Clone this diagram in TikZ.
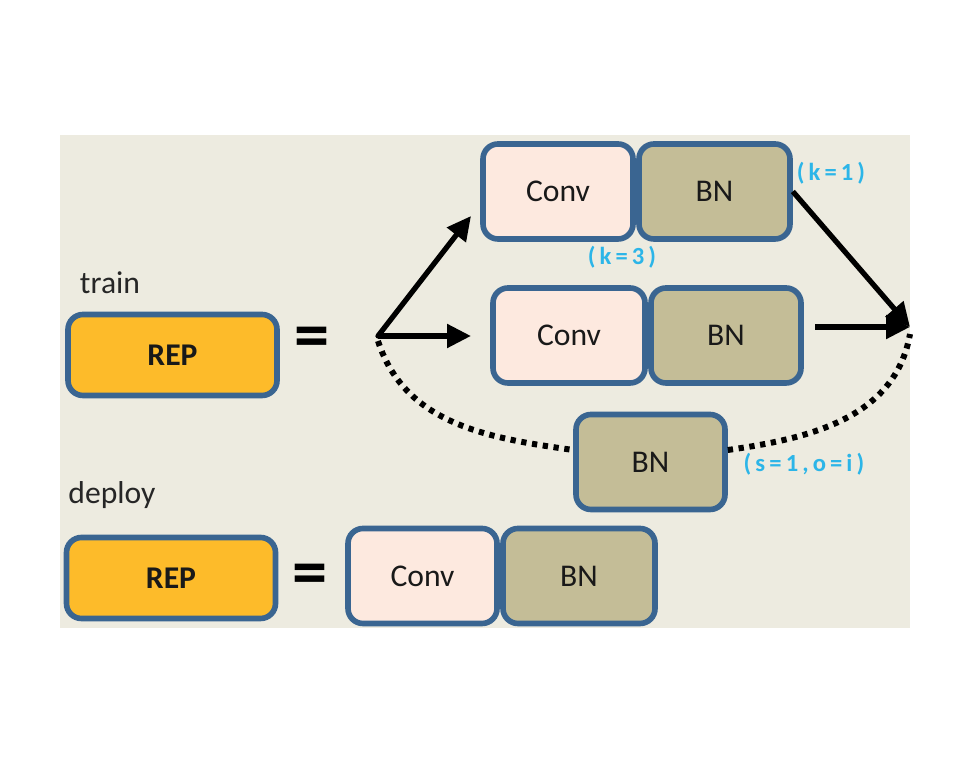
\documentclass[tikz,border=0pt]{standalone}
\usepackage{fontspec}
\setmainfont{Carlito}
\usetikzlibrary{arrows.meta}

\definecolor{panel}{HTML}{EDEBE0}
\definecolor{edge}{HTML}{3A6591}
\definecolor{convfill}{HTML}{FDE9DF}
\definecolor{bnfill}{HTML}{C4BD97}
\definecolor{repfill}{HTML}{FDBB2A}
\definecolor{note}{HTML}{2CB5E8}

\tikzset{
	blk/.style={shape=rectangle, rounded corners=0.3cm, draw=edge, line width=3.2pt,
		minimum height=1.9cm, font=\fontsize{18}{20}\selectfont, text=black!90},
	conv/.style={blk, fill=convfill},
	bn/.style={blk, fill=bnfill},
	rep/.style={blk, fill=repfill, minimum width=4.18cm, minimum height=1.62cm,
		font=\fontsize{18}{20}\selectfont\bfseries},
	lbl/.style={font=\fontsize{18}{20}\selectfont, text=black!85},
	kval/.style={font=\fontsize{14}{16}\selectfont\bfseries, text=note},
	eq/.style={font=\fontsize{40}{40}\selectfont\bfseries},
	arr/.style={line width=3pt, -{Triangle[length=0.48cm,width=0.46cm]}},
	dots/.style={line width=3.4pt, dash pattern=on 3pt off 3.2pt}
}

\begin{document}
\begin{tikzpicture}
	\useasboundingbox (0,0) rectangle (19.42,15.18);
	\fill[panel] (1.2,2.62) rectangle (18.2,12.48);

	\node[lbl] (train) at (2.20, 9.52) {train};
	\node[lbl] (deploy) at (2.24, 5.28) {deploy};

	\node[rep] (rep1) at (3.45, 8.08) {REP};
	\node[rep] (rep2) at (3.42, 3.62) {REP};

	\node[eq] (eq1) at (6.24, 8.32) {=};
	\node[eq] (eq2) at (6.20, 3.58) {=};

	\node[conv, minimum width=3.0cm]  (conv1) at (11.16, 11.35) {Conv};
	\node[bn, minimum width=3.02cm]   (bn1)   at (14.29, 11.35) {BN};
	\node[conv, minimum width=3.04cm] (conv2) at (11.38, 8.47)  {Conv};
	\node[bn, minimum width=3.0cm]    (bn2)   at (14.52, 8.47)  {BN};
	\node[bn, minimum width=2.98cm]   (bn3)   at (13.01, 5.94)  {BN};
	\node[conv, minimum width=2.98cm] (conv4) at (8.45, 3.66)   {Conv};
	\node[bn, minimum width=3.04cm]   (bn4)   at (11.58, 3.66)  {BN};

	\node[kval] (k1) at (16.62, 11.72) {(\,k\,=\,1\,)};
	\node[kval] (k3) at (12.44, 10.04) {(\,k\,=\,3\,)};
	\node[kval] (so) at (16.08, 5.90)  {(\,s\,=\,1\,,\,o\,=\,i\,)};

	\coordinate (split) at (7.56, 8.46);
	\coordinate (up)    at (9.42, 10.86);
	\coordinate (mid)   at (9.42, 8.46);
	\coordinate (join)  at (18.2, 8.64);
	\coordinate (out2)  at (16.30, 8.64);

	\draw[arr, line cap=round] (split) -- (up);
	\draw[arr] (split) -- (mid);
	\draw[arr] (bn1.east) -- (join);
	\draw[arr] (out2) -- (join);

	\draw[dots] ([yshift=-0.1cm]split) to[out=-72, in=172] ([yshift=0.24cm]bn3.west);
	\draw[dots] ([yshift=0.24cm]bn3.east) to[out=8, in=-100] ([yshift=-0.14cm]join);

\end{tikzpicture}
\end{document}
